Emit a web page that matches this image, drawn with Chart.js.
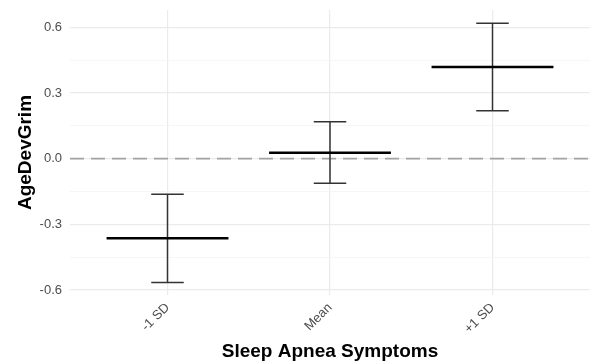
<!DOCTYPE html>
<html>
<head>
<meta charset="utf-8">
<script src="https://cdn.jsdelivr.net/npm/chart.js@4/dist/chart.umd.min.js"></script>
<style>
  html, body { margin: 0; padding: 0; background: #fff; }
  #c { display: block; }
</style>
</head>
<body>
<canvas id="c" width="590" height="363"></canvas>
<script>
// ---- data ----
const categories = ['-1 SD', 'Mean', '+1 SD'];
const means = [-0.364, 0.027, 0.419];
const lower = [-0.566, -0.112, 0.219];
const upper = [-0.163, 0.168, 0.618];
const yMajorTicks = [-0.6, -0.3, 0.0, 0.3, 0.6];
const yMinorTicks = [-0.45, -0.15, 0.15, 0.45];
const refLineValue = 0;

const FONT = "'Liberation Sans', Arial, Helvetica, sans-serif";
const CROSS_HALF = 0.375;  // half width of mean line (category units)
const CAP_HALF = 0.1;      // half width of error bar caps
const X_MIN = -0.6, X_MAX = categories.length - 1 + 0.6;

const datasets = [];

// mean lines
categories.forEach((c, i) => {
  datasets.push({
    data: [{x: i - CROSS_HALF, y: means[i]}, {x: i + CROSS_HALF, y: means[i]}],
    showLine: true, borderColor: '#000000', borderWidth: 2.5,
    pointRadius: 0, borderCapStyle: 'butt', order: 1
  });
});

// error bars (stem + two caps)
categories.forEach((c, i) => {
  const seg = (pts) => datasets.push({
    data: pts, showLine: true, borderColor: '#333333', borderWidth: 1.5,
    pointRadius: 0, borderCapStyle: 'butt', order: 2
  });
  seg([{x: i, y: lower[i]}, {x: i, y: upper[i]}]);
  seg([{x: i - CAP_HALF, y: upper[i]}, {x: i + CAP_HALF, y: upper[i]}]);
  seg([{x: i - CAP_HALF, y: lower[i]}, {x: i + CAP_HALF, y: lower[i]}]);
});

// dashed reference line
datasets.push({
  data: [{x: X_MIN, y: refLineValue}, {x: X_MAX, y: refLineValue}],
  showLine: true, borderColor: '#a3a3a3', borderWidth: 1.8,
  borderDash: [14, 7], pointRadius: 0, borderCapStyle: 'butt', order: 3
});

const allY = yMajorTicks.concat(yMinorTicks).sort((a, b) => a - b);
const isMajor = v => yMajorTicks.some(t => Math.abs(t - v) < 1e-9);

new Chart(document.getElementById('c'), {
  type: 'scatter',
  data: { datasets },
  options: {
    responsive: false,
    animation: false,
    devicePixelRatio: 1,
    layout: { padding: { top: 10, left: 0, right: 0, bottom: 0 } },
    plugins: { legend: { display: false }, tooltip: { enabled: false } },
    scales: {
      x: {
        type: 'linear', min: X_MIN, max: X_MAX,
        afterBuildTicks: s => { s.ticks = categories.map((c, i) => ({ value: i })); },
        afterFit: s => { s.height = 68; s.paddingLeft = 0; s.paddingRight = 0; },
        ticks: {
          callback: v => categories[v], autoSkip: false,
          minRotation: 45, maxRotation: 45,
          color: '#4d4d4d', font: { size: 13, family: FONT }, padding: 5
        },
        grid: { color: '#ebebeb', lineWidth: 1.2, drawTicks: false },
        border: { display: false },
        title: {
          display: true, text: 'Sleep Apnea Symptoms', color: '#000',
          font: { size: 19, weight: 'bold', family: FONT, lineHeight: 1 },
          padding: { top: 0, bottom: 1.5 }
        }
      },
      y: {
        type: 'linear', min: -0.623, max: 0.679,
        afterBuildTicks: s => { s.ticks = allY.map(v => ({ value: v })); },
        afterFit: s => { s.width = 70; s.paddingTop = 0; s.paddingBottom = 0; },
        ticks: {
          callback: v => isMajor(v) ? v.toFixed(1) : '',
          color: '#4d4d4d', font: { size: 13, family: FONT }, padding: 8
        },
        grid: {
          color: ctx => isMajor(ctx.tick.value) ? '#ebebeb' : '#f4f4f4',
          lineWidth: ctx => isMajor(ctx.tick.value) ? 1.2 : 0.8,
          drawTicks: false
        },
        border: { display: false },
        title: {
          display: true, text: 'AgeDevGrim', color: '#000',
          font: { size: 19, weight: 'bold', family: FONT, lineHeight: 1 },
          padding: { top: 16, bottom: 0 }
        }
      }
    }
  }
});
</script>
</body>
</html>
